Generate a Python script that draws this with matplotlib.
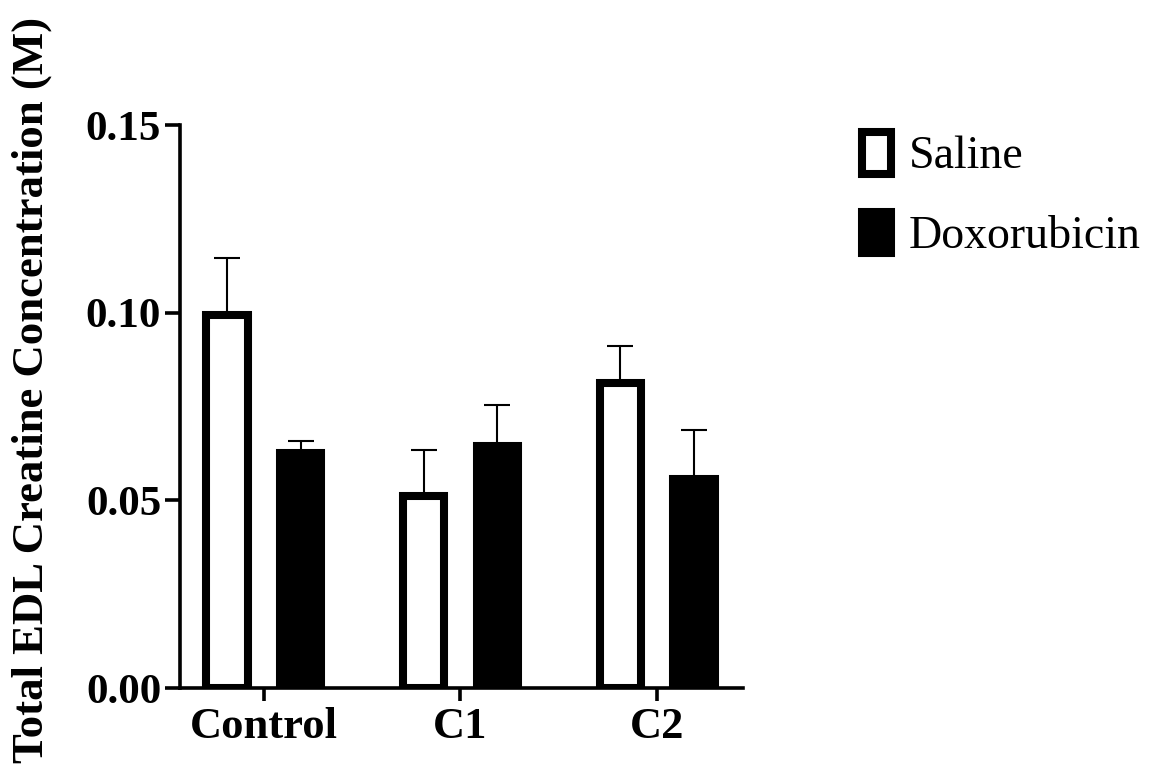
import numpy as np
import matplotlib
matplotlib.use("Agg")
import matplotlib.pyplot as plt

# ── Data ───────────────────────────────────────────────────────────────────────
groups     = ["Control", "C1", "C2"]
series     = ["Saline", "Doxorubicin"]
saline     = [0.0995, 0.0512, 0.0812]
saline_err = [0.0151, 0.0123, 0.0099]
doxo       = [0.0625, 0.0646, 0.0557]
doxo_err   = [0.0033, 0.0108, 0.0130]
yticks     = [0.00, 0.05, 0.10, 0.15]

plt.rcParams["font.family"] = ["Liberation Serif", "DejaVu Serif"]

fig = plt.figure(figsize=(11.56, 7.8), dpi=100)
ax = fig.add_axes([0.1557, 0.1179, 0.4870, 0.7218])

x   = np.arange(len(groups))
off = 0.188
w   = 0.209
EDGE = 5.8

ax.bar(x - off, saline, w, color="white", edgecolor="black", linewidth=EDGE,
       label=series[0], zorder=3)
ax.bar(x + off, doxo, w, color="black", edgecolor="black", linewidth=EDGE,
       label=series[1], zorder=3)
ax.errorbar(x - off, saline, yerr=[np.zeros(3), saline_err], fmt="none",
            ecolor="black", elinewidth=1.5, capsize=9.4, capthick=1.5, zorder=2)
ax.errorbar(x + off, doxo, yerr=[np.zeros(3), doxo_err], fmt="none",
            ecolor="black", elinewidth=1.5, capsize=9.4, capthick=1.5, zorder=2)

ax.set_xlim(-0.427, 2.437)
ax.set_ylim(0, 0.15)
ax.set_yticks(yticks)
ax.set_yticklabels([f"{v:.2f}" for v in yticks])
ax.set_xticks(x)
ax.set_xticklabels(groups)

for s in ["top", "right"]:
    ax.spines[s].set_visible(False)
for s in ["left", "bottom"]:
    ax.spines[s].set_linewidth(2.6)

ax.tick_params(axis="y", length=10.5, width=2.6, pad=3, labelsize=31)
ax.tick_params(axis="x", length=9.4, width=2.6, pad=4, labelsize=32)
for t in ax.get_xticklabels() + ax.get_yticklabels():
    t.set_fontweight("bold")

ax.set_ylabel("Total EDL Creatine Concentration (M)", fontsize=32.2,
              fontweight="bold")
ax.yaxis.set_label_coords(-0.228, 0.529)

leg = ax.legend(loc="center left", bbox_to_anchor=(0.7457, 0.750),
                bbox_transform=fig.transFigure, frameon=False, fontsize=33,
                handlelength=0.63, handleheight=1.03, handletextpad=0.39,
                labelspacing=0.72, borderpad=0, borderaxespad=0)

fig.savefig("out.png", dpi=100)
